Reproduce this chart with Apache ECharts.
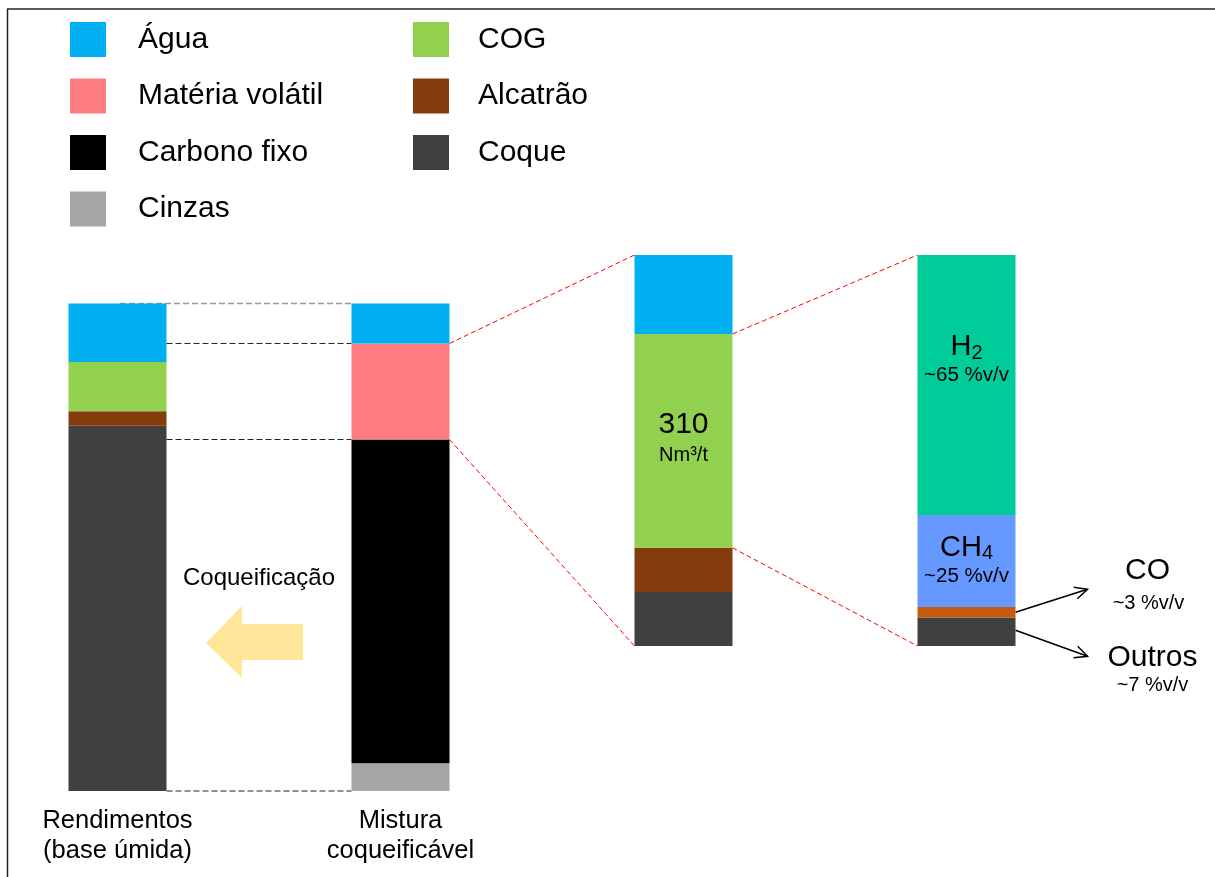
<!DOCTYPE html>
<html>
<head>
<meta charset="utf-8">
<script src="https://cdn.jsdelivr.net/npm/echarts@6/dist/echarts.min.js"></script>
<style>
  html, body { margin: 0; padding: 0; background: #fff; }
  #chart { width: 1215px; height: 877px; }
</style>
</head>
<body>
<div id="chart"></div>
<script>
// dados (de baixo para cima em cada barra, % da altura)
const categories = ['Rendimentos\n(base úmida)', 'Mistura\ncoqueificável', '', ''];
const yieldNames = ['Coque', 'Alcatrão', 'COG', 'Água'];
const yieldValues = [74.9, 3.0, 10.1, 12.0];
const blendNames = ['Cinzas', 'Carbono fixo', 'Matéria volátil', 'Água'];
const blendValues = [5.7, 66.4, 19.7, 8.2];
const volatileNames = ['Coque', 'Alcatrão', 'COG', 'Água'];
const volatileValues = [13.8, 11.3, 54.7, 20.2];
const gasNames = ['Outros', 'CO', 'CH4', 'H2'];
const gasValues = [7.3, 2.7, 23.5, 66.5];
const gasShares = ['~7 %v/v', '~3 %v/v', '~25 %v/v', '~65 %v/v'];
const cogVolume = '310';
const cogUnit = 'Nm³/t';
const legendLeft = ['Água', 'Matéria volátil', 'Carbono fixo', 'Cinzas'];
const legendRight = ['COG', 'Alcatrão', 'Coque'];

const FONT = '"Liberation Sans", Arial, sans-serif';
const colors = {
  'Água': '#00b0f0',
  'Matéria volátil': '#ff7c80',
  'Carbono fixo': '#000000',
  'Cinzas': '#a6a6a6',
  'COG': '#92d050',
  'Alcatrão': '#843c0c',
  'Coque': '#404040',
  'H2': '#00cc99',
  'CH4': '#6699ff',
  'CO': '#c55a11',
  'Outros': '#404040'
};

const richFormula = {
  m: { fontSize: 29, lineHeight: 30, color: '#000', fontFamily: FONT },
  s: { fontSize: 20, lineHeight: 20, padding: [12, 0, 0, 0], color: '#000', fontFamily: FONT },
  p: { fontSize: 20.5, lineHeight: 26, color: '#000', fontFamily: FONT }
};

function formula(name) {
  const m = name.match(/^(\D+)(\d*)$/);
  return '{m|' + m[1] + '}' + (m[2] ? '{s|' + m[2] + '}' : '');
}

function labelFor(col, name) {
  if (col === 2 && name === 'COG') {
    return {
      show: true,
      position: 'inside',
      offset: [0, -3],
      formatter: '{a|' + cogVolume + '}\n{b|' + cogUnit + '}',
      rich: {
        a: { fontSize: 30, lineHeight: 36, color: '#000', fontFamily: FONT },
        b: { fontSize: 20, lineHeight: 26, color: '#000', fontFamily: FONT }
      }
    };
  }
  if (col === 3 && (name === 'H2' || name === 'CH4')) {
    const k = gasNames.indexOf(name);
    return {
      show: true,
      position: name === 'H2' ? 'insideTop' : 'inside',
      distance: name === 'H2' ? 77 : 5,
      formatter: formula(name) + '\n{p|' + gasShares[k] + '}',
      rich: richFormula
    };
  }
  return { show: false };
}

const columns = [
  [0, yieldNames, yieldValues],
  [0, blendNames, blendValues],
  [1, volatileNames, volatileValues],
  [1, gasNames, gasValues]
];

const series = [];
columns.forEach(([g, names, values], c) => {
  names.forEach((name, k) => {
    series.push({
      name: name,
      type: 'bar',
      stack: 'g' + g,
      xAxisIndex: g,
      yAxisIndex: g,
      barWidth: 98,
      silent: true,
      data: categories.map((_, i) => (i === c ? values[k] : '-')),
      itemStyle: { color: colors[name] },
      label: labelFor(c, name)
    });
  });
});

const legendBase = {
  orient: 'vertical',
  top: 22,
  padding: 0,
  itemWidth: 36,
  itemHeight: 35,
  itemGap: 21.5,
  icon: 'rect',
  selectedMode: false,
  textStyle: { fontSize: 30, color: '#000', fontFamily: FONT }
};

const chart = echarts.init(document.getElementById('chart'));
chart.setOption({
  animation: false,
  backgroundColor: '#fff',
  textStyle: { fontFamily: FONT },
  legend: [
    Object.assign({}, legendBase, {
      left: 70, data: legendLeft,
      textStyle: Object.assign({}, legendBase.textStyle, { padding: [7, 0, 0, 27] })
    }),
    Object.assign({}, legendBase, {
      left: 413, data: legendRight,
      textStyle: Object.assign({}, legendBase.textStyle, { padding: [7, 0, 0, 24] })
    })
  ],
  grid: [
    { left: -24, width: 1132, top: 303.5, height: 487.5, outerBoundsMode: 'none' },
    { left: -24, width: 1132, top: 255, height: 391, outerBoundsMode: 'none' }
  ],
  xAxis: [
    {
      gridIndex: 0,
      type: 'category',
      data: categories,
      axisLine: { show: false },
      axisTick: { show: false },
      axisLabel: {
        interval: 0, fontSize: 25.5, lineHeight: 30, margin: 15,
        color: '#000', fontFamily: FONT
      }
    },
    { gridIndex: 1, type: 'category', data: categories, show: false }
  ],
  yAxis: [
    { gridIndex: 0, type: 'value', min: 0, max: 100, show: false },
    { gridIndex: 1, type: 'value', min: 0, max: 100, show: false }
  ],
  series: series
});

// ligações, setas e textos ancorados nas barras
const half = 49;
const px = (g, c, v) => chart.convertToPixel({ gridIndex: g }, [c, v]);
const cum = arr => arr.reduce((acc, v) => { acc.push(acc[acc.length - 1] + v); return acc; }, [0]);
const blendCum = cum(blendValues);
const volCum = cum(volatileValues);
const gasCum = cum(gasValues);

function seg(p1, p2, style) {
  return {
    type: 'line', silent: true,
    shape: { x1: p1[0], y1: p1[1], x2: p2[0], y2: p2[1] },
    style: style
  };
}
function txt(text, x, y, size) {
  return {
    type: 'text', silent: true,
    style: {
      text: text, x: x, y: y, align: 'center', verticalAlign: 'middle',
      fontSize: size, fontFamily: FONT, fill: '#000'
    }
  };
}
function arrow(p1, p2) {
  const a = Math.atan2(p2[1] - p1[1], p2[0] - p1[0]);
  const L = 14, w = 0.45;
  const h1 = [p2[0] - L * Math.cos(a - w), p2[1] - L * Math.sin(a - w)];
  const h2 = [p2[0] - L * Math.cos(a + w), p2[1] - L * Math.sin(a + w)];
  const st = { stroke: '#000', lineWidth: 1.5 };
  return [
    seg(p1, p2, st),
    { type: 'polyline', silent: true, shape: { points: [h1, p2, h2] }, style: Object.assign({ fill: null }, st) }
  ];
}

const gfx = [];
const blackDash = { stroke: '#222', lineWidth: 1, lineDash: [6, 3] };
const grayDash = { stroke: '#999', lineWidth: 1.5, lineDash: [6, 3] };
const redDash = { stroke: '#ff0000', lineWidth: 1, lineDash: [5, 3] };

// linhas tracejadas entre rendimentos e mistura
[blendCum[4], blendCum[3], blendCum[2], blendCum[0]].forEach((v, i) => {
  const a = px(0, 0, v), b = px(0, 1, v);
  gfx.push(seg([i === 0 ? a[0] + 2.5 : a[0] + half, a[1]], [b[0] - half, b[1]], i === 0 ? grayDash : blackDash));
});

// ampliações (vermelho)
const b2Top = px(0, 1, blendCum[3]), b2Bot = px(0, 1, blendCum[2]);
const b3Top = px(1, 2, 100), b3Bot = px(1, 2, 0);
gfx.push(seg([b2Top[0] + half, b2Top[1]], [b3Top[0] - half, b3Top[1]], redDash));
gfx.push(seg([b2Bot[0] + half, b2Bot[1]], [b3Bot[0] - half, b3Bot[1]], redDash));
const c3Top = px(1, 2, volCum[3]), c3Bot = px(1, 2, volCum[2]);
const b4Top = px(1, 3, 100), b4Bot = px(1, 3, 0);
gfx.push(seg([c3Top[0] + half, c3Top[1]], [b4Top[0] - half, b4Top[1]], redDash));
gfx.push(seg([c3Bot[0] + half, c3Bot[1]], [b4Bot[0] - half, b4Bot[1]], redDash));

// setas para CO e Outros
const coPt = px(1, 3, gasCum[1] + gasValues[1] / 2);
const coStart = [coPt[0] + half, coPt[1]];
const coEnd = [coStart[0] + 72, coStart[1] - 23];
gfx.push(...arrow(coStart, coEnd));
gfx.push(txt('CO', coEnd[0] + 60, coEnd[1] - 18, 30));
gfx.push(txt(gasShares[1], coEnd[0] + 61, coEnd[1] + 14, 20));

const otPt = px(1, 3, gasValues[0] * 0.55);
const otStart = [otPt[0] + half, otPt[1]];
const otEnd = [otStart[0] + 72, otStart[1] + 26];
gfx.push(...arrow(otStart, otEnd));
gfx.push(txt('Outros', otEnd[0] + 65, otEnd[1] + 1, 30));
gfx.push(txt(gasShares[0], otEnd[0] + 65, otEnd[1] + 29, 20));

// coqueificação
const midX = (px(0, 0, 0)[0] + half + px(0, 1, 0)[0] - half) / 2;
gfx.push(txt('Coqueificação', midX, 578, 24));
gfx.push({
  type: 'polygon', silent: true,
  shape: { points: [[206, 643], [242, 606], [242, 624], [303, 624], [303, 660], [242, 660], [242, 678]] },
  style: { fill: '#ffe699' }
});

// moldura
gfx.push(seg([7, 9], [1215, 9], { stroke: '#222', lineWidth: 1.5 }));
gfx.push(seg([7.5, 9], [7.5, 877], { stroke: '#222', lineWidth: 1.5 }));

chart.setOption({ graphic: gfx });

window.addEventListener('resize', () => chart.resize());
</script>
</body>
</html>
